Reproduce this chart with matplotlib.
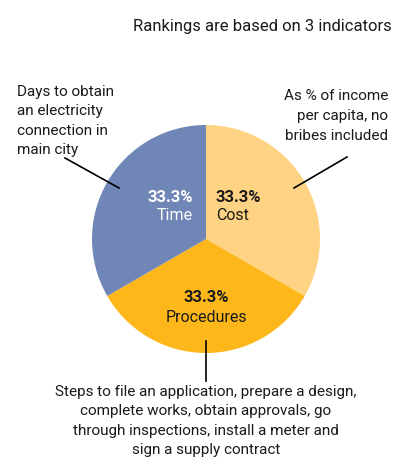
import matplotlib
matplotlib.use('Agg')
from matplotlib import pyplot as plt

plt.rcParams['font.family'] = ['Roboto', 'DejaVu Sans']

# indicator weights, clockwise from the top
indicators = ['Cost', 'Procedures', 'Time']
weights = [33.3, 33.3, 33.3]
colors = ['#FED383', '#FDB71A', '#6F86B6']
pct_colors = ['#1a1a1a', '#1a1a1a', 'white']

title = 'Rankings are based on 3 indicators'
notes = {
    'Time': 'Days to obtain\nan electricity\nconnection in\nmain city',
    'Cost': 'As % of income\nper capita, no\nbribes included',
    'Procedures': 'Steps to file an application, prepare a design,\n'
                  'complete works, obtain approvals, go\n'
                  'through inspections, install a meter and\n'
                  'sign a supply contract',
}

W, H = 402, 464
fig = plt.figure(figsize=(W / 100, H / 100), dpi=100)
ax = fig.add_axes([0, 0, 1, 1])

def Y(y):
    # work in pixel rows measured from the top
    return H - y

cx, cy, r = 206, Y(240), 114
ax.pie(weights, colors=colors, startangle=90, counterclock=False,
       center=(cx, cy), radius=r, wedgeprops=dict(linewidth=0))
ax.set_xlim(0, W)
ax.set_ylim(0, H)
ax.axis('off')

fs = 11
ls = 1.5
ax.text(392, Y(26), title, ha='right', va='center', fontsize=12, color='#1a1a1a')

# values inside the slices
lab = dict(zip(indicators, zip(weights, pct_colors)))
v, c = lab['Time']
ax.text(193, Y(197), f'{v}%', ha='right', va='center', fontsize=12, fontweight='bold', color=c)
ax.text(193, Y(216), 'Time', ha='right', va='center', fontsize=fs + 0.5, color=c)
v, c = lab['Cost']
ax.text(216, Y(197), f'{v}%', ha='left', va='center', fontsize=12, fontweight='bold', color=c)
ax.text(216, Y(216), 'Cost', ha='left', va='center', fontsize=fs + 0.5, color=c)
v, c = lab['Procedures']
ax.text(206, Y(298), f'{v}%', ha='center', va='center', fontsize=12, fontweight='bold', color=c)
ax.text(206, Y(317), 'Procedures', ha='center', va='center', fontsize=fs + 0.5, color=c)

# descriptions and leader lines
ax.text(17, Y(121), notes['Time'], ha='left', va='center', fontsize=fs,
        color='#1a1a1a', linespacing=ls)
ax.text(388, Y(116), notes['Cost'], ha='right', va='center', fontsize=fs,
        color='#1a1a1a', linespacing=ls)
ax.text(206, Y(421), notes['Procedures'], ha='center', va='center', fontsize=fs,
        color='#1a1a1a', linespacing=ls)

ax.plot([65, 119], [Y(159), Y(189)], color='black', lw=1.2)
ax.plot([294, 347], [Y(189), Y(158)], color='black', lw=1.2)
ax.plot([206, 206], [Y(342), Y(382)], color='black', lw=1.2)

fig.savefig('out.png', dpi=100)
